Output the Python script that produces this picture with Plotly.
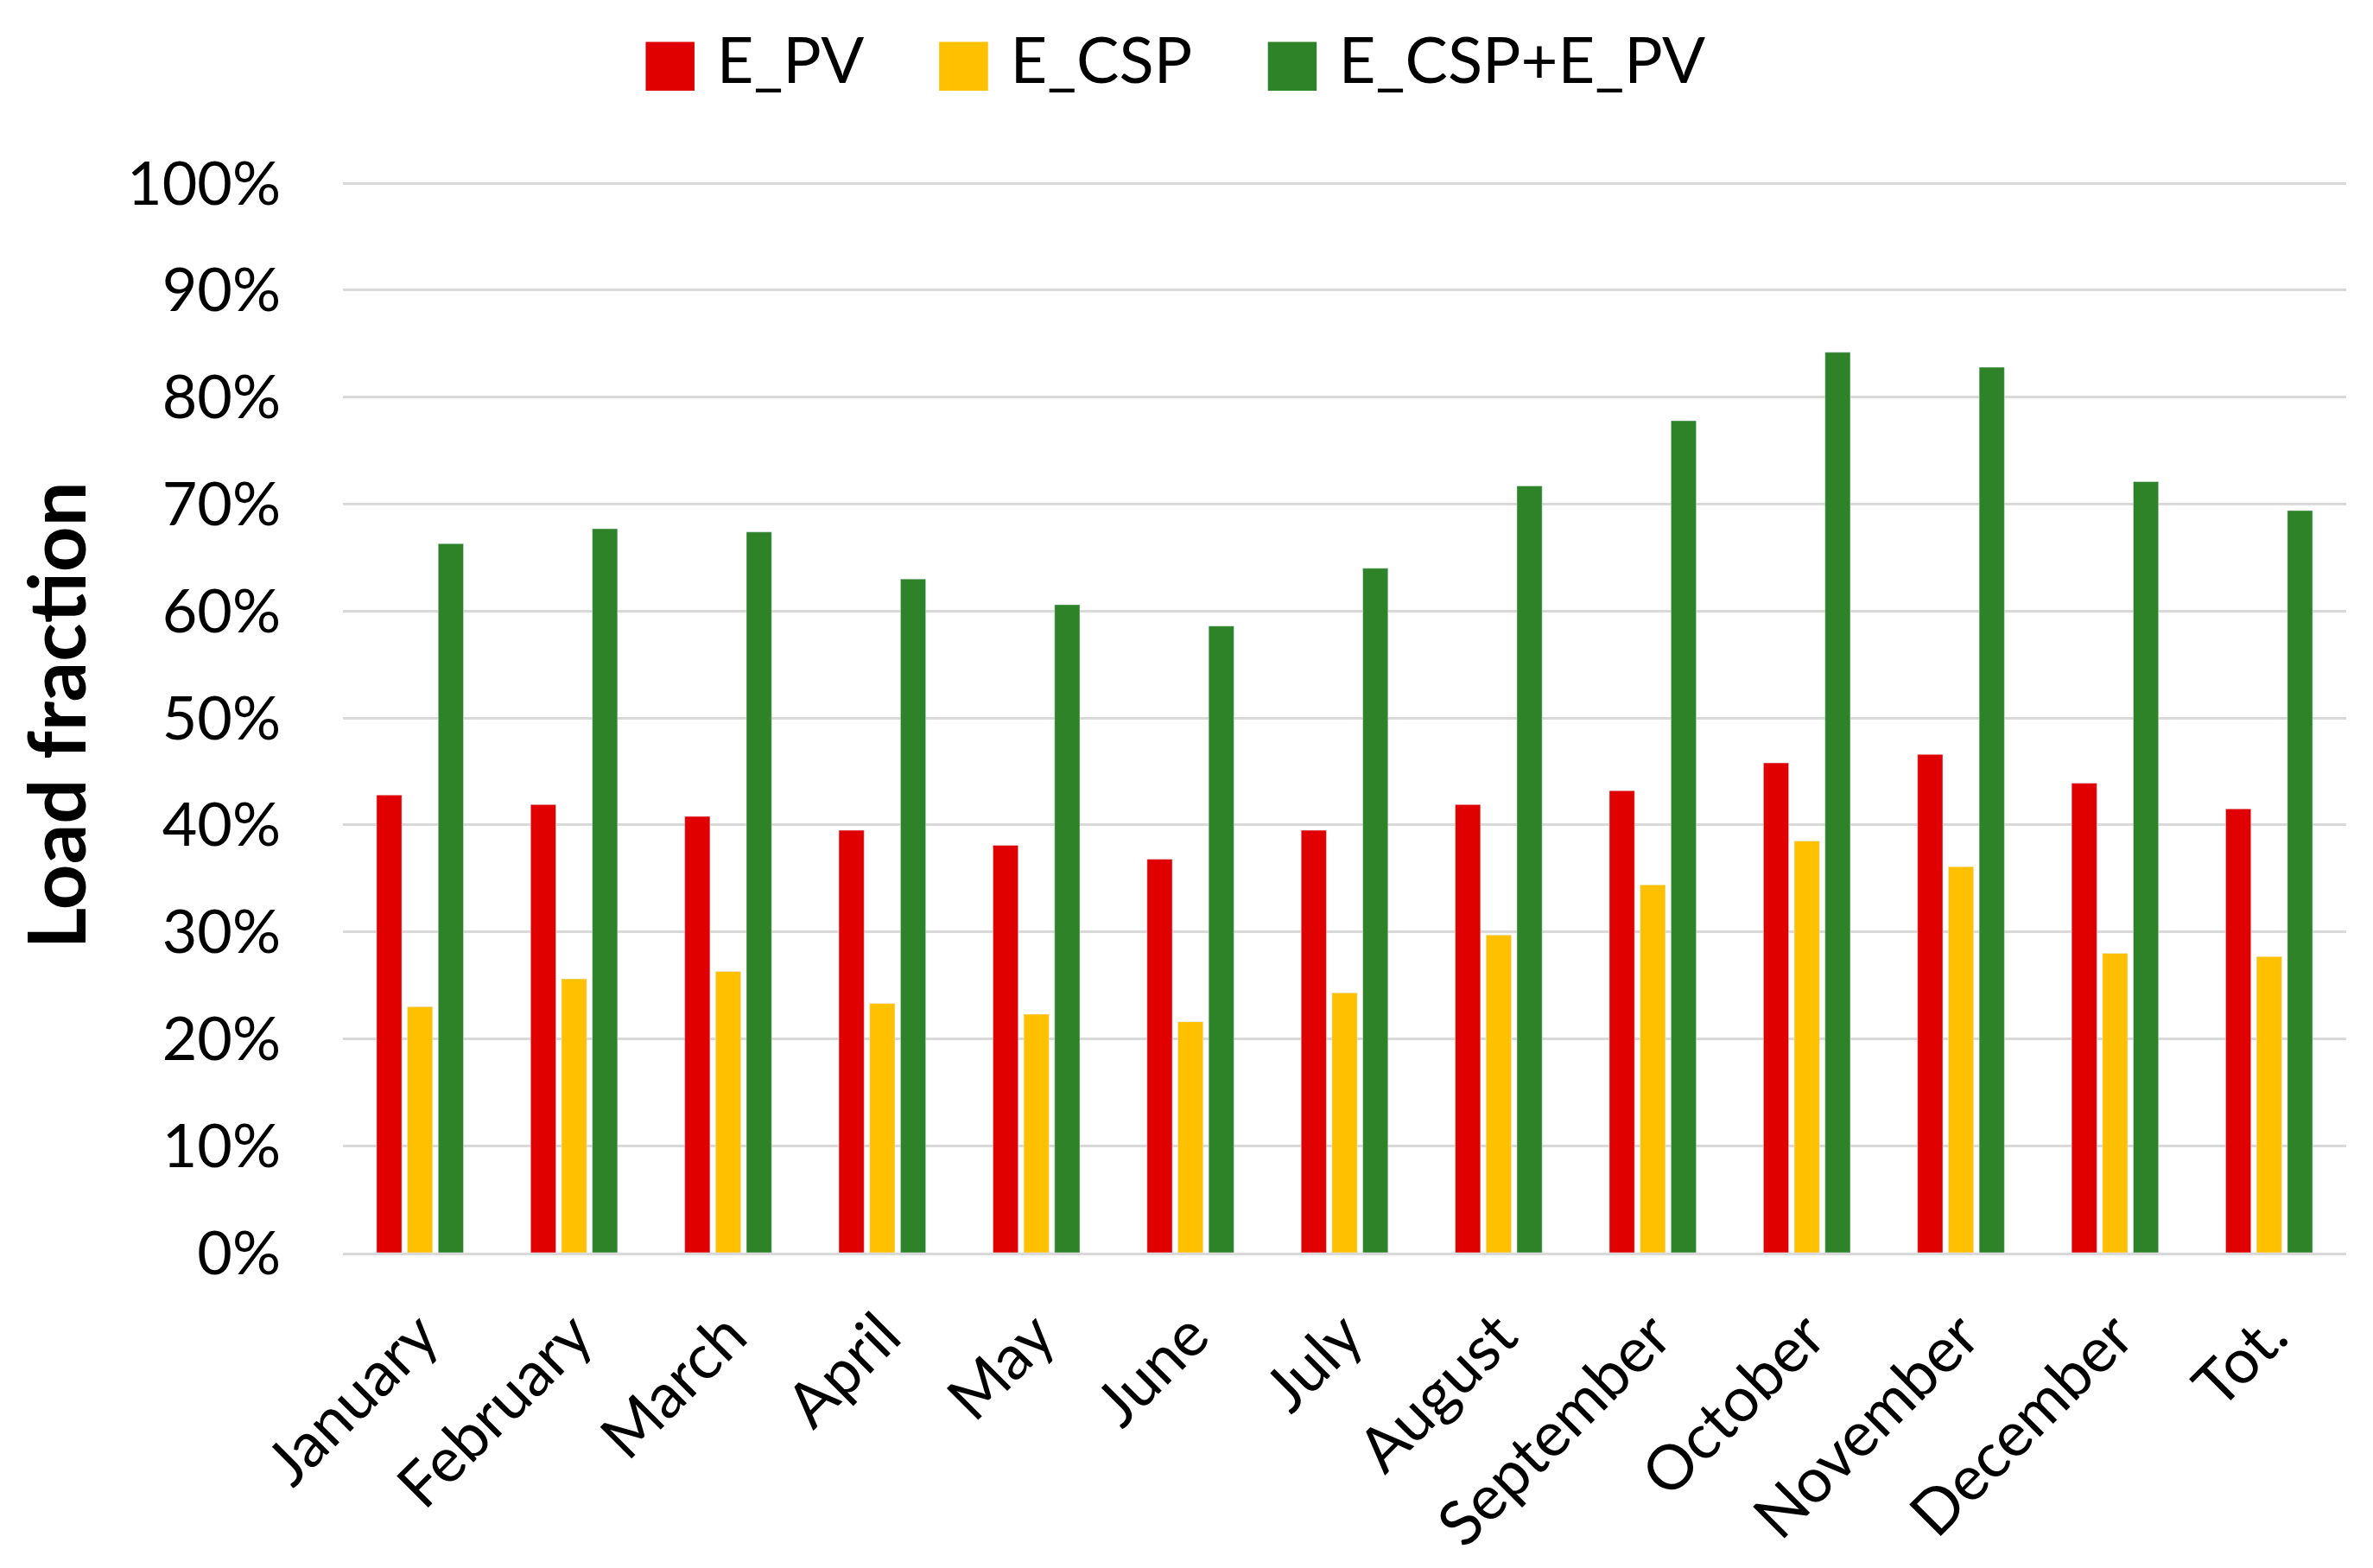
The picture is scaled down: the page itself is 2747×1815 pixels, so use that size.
import plotly.graph_objects as go

categories = ["January", "February", "March", "April", "May", "June", "July",
              "August", "September", "October", "November", "December", "Tot."]
e_pv = [42.8, 41.9, 40.8, 39.5, 38.1, 36.8, 39.5, 41.9, 43.2, 45.8, 46.6, 43.9, 41.5]
e_csp = [23.0, 25.6, 26.3, 23.3, 22.3, 21.6, 24.3, 29.7, 34.4, 38.5, 36.1, 28.0, 27.7]
e_total = [66.3, 67.7, 67.4, 63.0, 60.6, 58.6, 64.0, 71.7, 77.8, 84.2, 82.8, 72.1, 69.4]
series_names = ["E_PV", "E_CSP", "E_CSP+E_PV"]
series_colors = ["#E00000", "#FFC000", "#2E8228"]
y_ticks = [0, 10, 20, 30, 40, 50, 60, 70, 80, 90, 100]
y_tick_labels = [f"{v}%" for v in y_ticks]

FONT = "Lato"

fig = go.Figure()
for vals, name, color in zip([e_pv, e_csp, e_total], series_names, series_colors):
    fig.add_trace(go.Bar(x=categories, y=vals, name=name, marker_color=color,
                         showlegend=False))

# legend entries with large square swatches (as in the original)
for i, (name, color) in enumerate(zip(series_names, series_colors)):
    trail = "\u00a0\u00a0" if i < len(series_names) - 1 else ""
    fig.add_trace(go.Scatter(
        x=[None], y=[None], mode="markers",
        marker=dict(color="rgba(0,0,0,0)", size=1),
        name=f"<span style='color:{color};font-family:DejaVu Sans'>■</span>\u00a0{name}{trail}",
        showlegend=True, hoverinfo="skip"))

fig.update_layout(
    width=2747, height=1815,
    paper_bgcolor="white", plot_bgcolor="white",
    margin=dict(l=389, r=39, t=198, b=373, autoexpand=False),
    barmode="group", bargap=0.4, bargroupgap=0.18,
    font=dict(family=FONT, size=70, color="black"),
    legend=dict(orientation="h", xref="container", yref="container",
                x=0.485, xanchor="center", y=0.967, yanchor="middle",
                font=dict(family=FONT, size=74, color="black"),
                itemwidth=30, traceorder="normal"),
    showlegend=True,
)
fig.update_yaxes(
    range=[0, 100.5], tickvals=y_ticks, ticktext=y_tick_labels,
    showgrid=True, gridcolor="#D9D9D9", gridwidth=3,
    zeroline=False, showline=False,
    tickfont=dict(family=FONT, size=70, color="black"),
    ticklabelstandoff=71,
    title=dict(text="<b>Load fraction</b>", font=dict(family=FONT, size=92, color="black"),
               standoff=16),
)
fig.update_xaxes(
    tickangle=-45, tickfont=dict(family=FONT, size=72, color="black"),
    showline=True, linecolor="#D9D9D9", linewidth=3,
    ticklabelstandoff=22,
)

fig.write_html("out.html")
